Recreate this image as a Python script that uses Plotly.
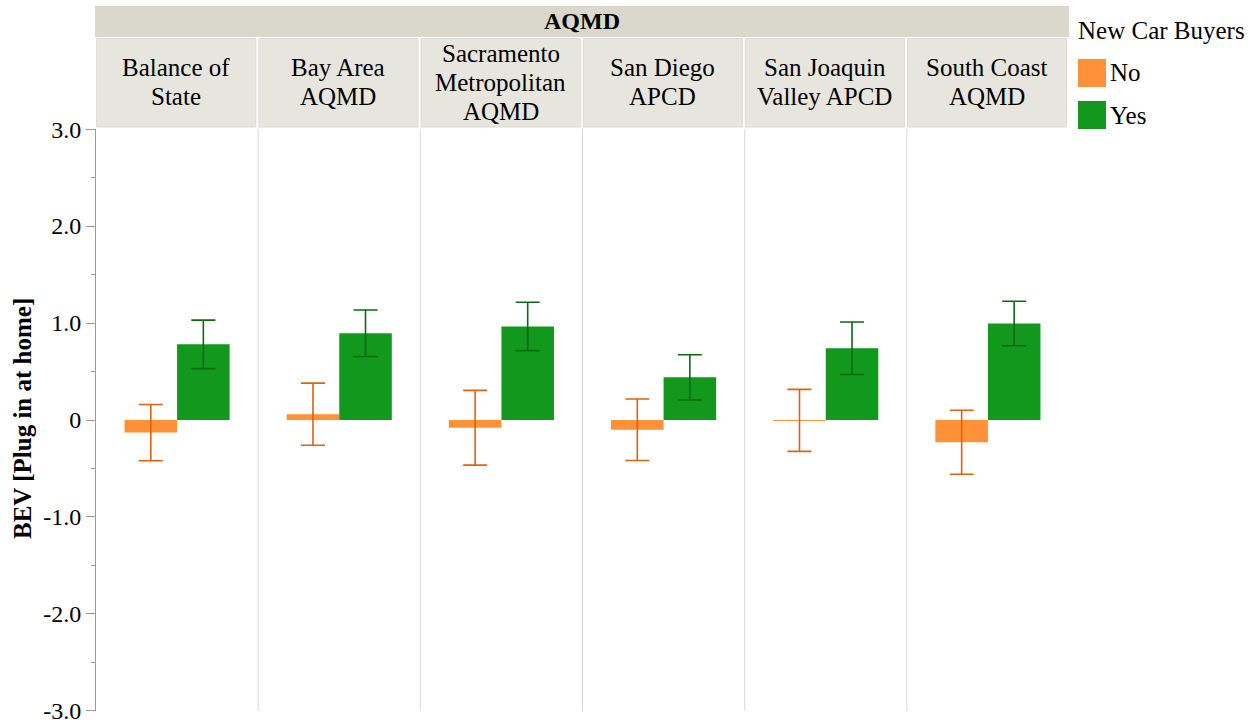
import plotly.graph_objects as go

# Facet categories (air district) and group means with confidence half-widths
districts = ["Balance of<br>State", "Bay Area<br>AQMD", "Sacramento<br>Metropolitan<br>AQMD",
             "San Diego<br>APCD", "San Joaquin<br>Valley APCD", "South Coast<br>AQMD"]
no_values = [-0.13, 0.06, -0.08, -0.10, -0.004, -0.23]
no_err = [0.29, 0.32, 0.385, 0.317, 0.32, 0.33]
yes_values = [0.78, 0.895, 0.965, 0.44, 0.74, 0.995]
yes_err = [0.25, 0.24, 0.25, 0.233, 0.27, 0.23]

tick_vals = [3, 2, 1, 0, -1, -2, -3]
tick_text = ["3.0", "2.0", "1.0", "0", "-1.0", "-2.0", "-3.0"]

FONT = "Liberation Serif, Times New Roman, serif"
ORANGE = "#FF9138"
ORANGE_ERR = "#E0620E"
GREEN = "#13981E"
GREEN_ERR = "#0B6A13"

W, H = 1256, 723
L, R, T, B = 96, 1069, 129, 711
LINE_GAP = 29  # header line pitch in pixels


def px(xp):
    return (xp - L) / (R - L)


def py(yp):
    return (B - yp) / (B - T)


idx = list(range(len(districts)))

fig = go.Figure()
fig.add_trace(go.Bar(
    x=idx, y=no_values, name="No", marker=dict(color=ORANGE, line=dict(width=0)),
    error_y=dict(type="data", array=no_err, color=ORANGE_ERR, thickness=1.6, width=12),
    showlegend=False,
))
fig.add_trace(go.Bar(
    x=idx, y=yes_values, name="Yes", marker=dict(color=GREEN, line=dict(width=0)),
    error_y=dict(type="data", array=yes_err, color=GREEN_ERR, thickness=1.6, width=12),
    showlegend=False,
))

shapes = []
annotations = []

# vertical separators between facets
for i in range(len(districts) - 1):
    shapes.append(dict(type="line", xref="x", yref="y", x0=i + 0.5, x1=i + 0.5, y0=-3, y1=3,
                       line=dict(color="#d9d9d9", width=1), layer="below"))

# top header band
shapes.append(dict(type="rect", xref="paper", yref="paper", x0=px(95), x1=px(1069),
                   y0=py(37), y1=py(6), fillcolor="#DAD8CA", line=dict(width=0)))
annotations.append(dict(text="<b>AQMD</b>", xref="paper", yref="paper", x=px(582), y=py(21),
                        showarrow=False, font=dict(family=FONT, size=24, color="black"),
                        xanchor="center", yanchor="middle"))

# facet header cells, one annotation per text line
for i, name in enumerate(districts):
    shapes.append(dict(type="rect", xref="x", yref="paper", x0=i - 0.5 + 0.004, x1=i + 0.5 - 0.014,
                       y0=py(127), y1=py(38.5), fillcolor="#E7E6DE",
                       line=dict(color="#DCDBD2", width=1)))
    lines = name.split("<br>")
    first = 82.5 - LINE_GAP * (len(lines) - 1) / 2
    for k, line in enumerate(lines):
        annotations.append(dict(text=line, xref="x", yref="paper", x=i - 0.005,
                                y=py(first + k * LINE_GAP),
                                showarrow=False, font=dict(family=FONT, size=25, color="black"),
                                xanchor="center", yanchor="middle", align="center"))

# y axis title
annotations.append(dict(text="<b>BEV [Plug in at home]</b>", xref="paper", yref="paper",
                        x=px(22), y=py(419), textangle=-90, showarrow=False,
                        font=dict(family=FONT, size=25, color="black"),
                        xanchor="center", yanchor="middle"))

# legend
annotations.append(dict(text="New Car Buyers", xref="paper", yref="paper", x=px(1076), y=py(31),
                        showarrow=False, font=dict(family=FONT, size=25, color="black"),
                        xanchor="left", yanchor="middle"))
for label, color, ytop in [("No", ORANGE, 59), ("Yes", GREEN, 101)]:
    shapes.append(dict(type="rect", xref="paper", yref="paper", x0=px(1078), x1=px(1106),
                       y0=py(ytop + 28), y1=py(ytop), fillcolor=color, line=dict(width=0)))
    annotations.append(dict(text=label, xref="paper", yref="paper", x=px(1108), y=py(ytop + 14),
                            showarrow=False, font=dict(family=FONT, size=25, color="black"),
                            xanchor="left", yanchor="middle"))

fig.update_layout(
    width=W, height=H,
    margin=dict(l=L, r=W - R, t=T, b=H - B, pad=0, autoexpand=False),
    paper_bgcolor="white", plot_bgcolor="white",
    barmode="group", bargap=0.352, bargroupgap=0,
    shapes=shapes, annotations=annotations,
    font=dict(family=FONT, color="black"),
    xaxis=dict(range=[-0.5, len(districts) - 0.5], showticklabels=False, ticks="",
               showgrid=False, zeroline=False, showline=False, automargin=False),
    yaxis=dict(range=[-3.001, 3.001], tickvals=tick_vals, ticktext=tick_text, ticks="outside",
               ticklen=9, tickcolor="#9a9a9a", tickwidth=1, ticklabeloverflow="allow",
               automargin=False,
               tickfont=dict(family=FONT, size=24, color="black"),
               showgrid=False, zeroline=False, showline=True, linecolor="#9a9a9a", linewidth=1,
               minor=dict(dtick=0.5, tick0=0, ticks="outside", ticklen=4, tickcolor="#9a9a9a",
                          showgrid=False)),
)

fig.write_html("out.html")
